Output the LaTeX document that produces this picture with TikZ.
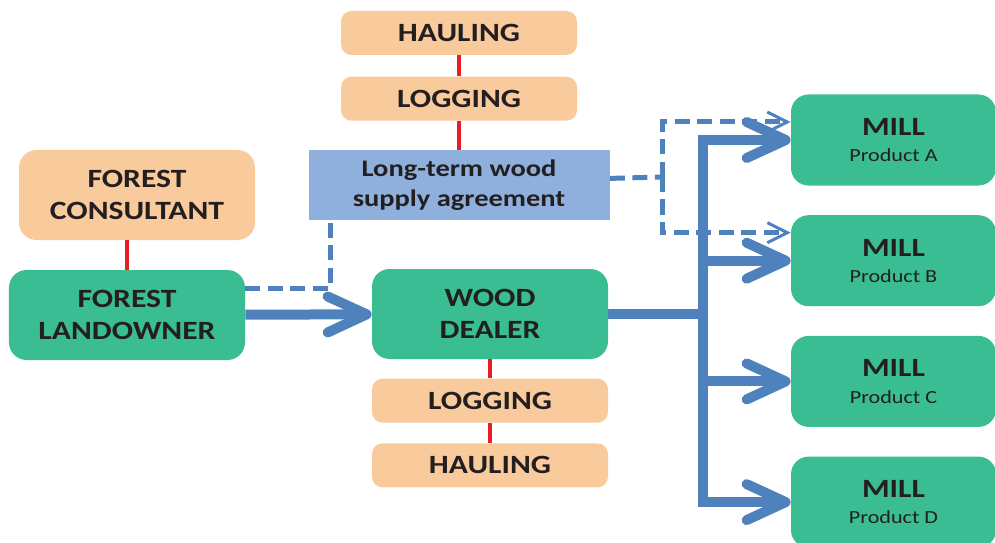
\documentclass[tikz,border=0pt]{standalone}
\usepackage{fontspec}
\setmainfont{Carlito}[FakeStretch=1.2]
\usetikzlibrary{positioning, arrows.meta}
\definecolor{peach}{RGB}{249,203,156}
\definecolor{sea}{RGB}{58,189,147}
\definecolor{sky}{RGB}{143,176,220}
\definecolor{steel}{RGB}{79,129,189}
\definecolor{tiered}{RGB}{232,30,36}
\definecolor{ink}{RGB}{35,31,32}
\begin{document}
\begin{tikzpicture}[text=ink,
    task/.style={rectangle, rounded corners=6pt, fill=peach, minimum width=4.72cm, minimum height=0.88cm, font=\fontsize{15}{18}\selectfont\bfseries},
    party/.style={rectangle, rounded corners=10pt, fill=sea, minimum width=4.72cm, minimum height=1.8cm, align=center, font=\fontsize{15}{18}\selectfont\bfseries},
    adviser/.style={party, fill=peach},
    mill/.style={party, minimum width=4.1cm, minimum height=1.82cm, font=\bfseries},
    deal/.style={rectangle, fill=sky, minimum width=6.02cm, minimum height=1.4cm, align=center, font=\fontsize{13.5}{17}\selectfont\bfseries},
    tie/.style={draw=tiered, line width=0.08cm},
    flow/.style={draw=steel, line width=0.2cm, -{Straight Barb[round, length=0.78cm, width=0.72cm]}},
    trunk/.style={draw=steel, line width=0.2cm},
    contract/.style={draw=steel, line width=0.1cm, dash pattern=on 0.3cm off 0.15cm},
    contractto/.style={contract, -{Straight Barb[length=0.4cm, width=0.4cm, line width=0.06cm]}}]
\useasboundingbox (0,0) rectangle (19.9,-10.86);

% service chain of the agreement
\node[task] (haul1) at (9.18,-0.66) {HAULING};
\node[task, below=0.42cm of haul1] (log1) {LOGGING};
\node[deal, below=0.58cm of log1] (deal) {Long-term wood\\supply agreement};

% owner side
\node[adviser] (consult) at (2.74,-3.9) {FOREST\\CONSULTANT};
\node[party] (owner) at (2.54,-6.3) {FOREST\\LANDOWNER};

% dealer side
\node[party] (dealer) at (9.8,-6.28) {WOOD\\DEALER};
\node[task, below=0.38cm of dealer] (log2) {LOGGING};
\node[task, below=0.4cm of log2] (haul2) {HAULING};

% mills
\node[mill] (millA) at (17.87,-2.8) {{\fontsize{15}{16}\selectfont MILL}\\[3pt]{\fontsize{10.5}{12}\selectfont\mdseries Product A}};
\node[mill, below=0.58cm of millA] (millB) {{\fontsize{15}{16}\selectfont MILL}\\[3pt]{\fontsize{10.5}{12}\selectfont\mdseries Product B}};
\node[mill, below=0.58cm of millB] (millC) {{\fontsize{15}{16}\selectfont MILL}\\[3pt]{\fontsize{10.5}{12}\selectfont\mdseries Product C}};
\node[mill, below=0.58cm of millC] (millD) {{\fontsize{15}{16}\selectfont MILL}\\[3pt]{\fontsize{10.5}{12}\selectfont\mdseries Product D}};

\coordinate (split) at (14.06,-6.28);
\coordinate (fork) at (13.24,-3.54);

% red ties
\draw[tie] (haul1) -- (log1);
\draw[tie] (log1) -- (deal);
\draw[tie] (owner.north) -- (owner.north |- consult.south);
\draw[tie] (dealer) -- (log2);
\draw[tie] (log2) -- (haul2);

% wood flow
\draw[flow] (owner) -- (dealer);
\draw[trunk] (dealer) -- (split);
\draw[flow] (split) |- (millA);
\draw[flow] (split |- millB) -- (millB);
\draw[flow] (split |- millC) -- (millC);
\draw[flow] (split) |- (millD);

% agreement
\draw[contract] ([yshift=0.54cm]owner.east) -| ([xshift=0.44cm]deal.south west);
\draw[contract] ([yshift=0.14cm]deal.east) -- (fork);
\draw[contractto] (fork) |- ([yshift=0.36cm]millA.west);
\draw[contractto] (fork) |- ([yshift=0.56cm]millB.west);
\end{tikzpicture}
\end{document}
